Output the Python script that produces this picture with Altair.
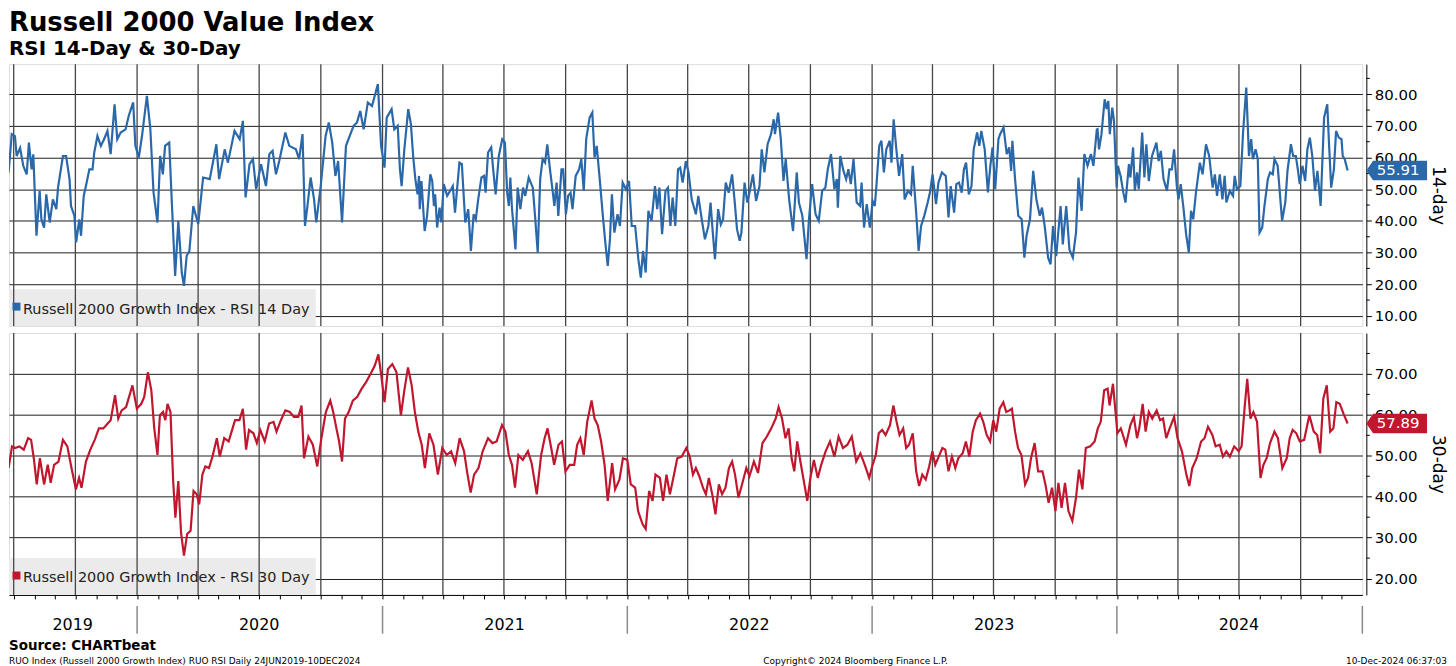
import altair as alt
import pandas as pd

# ---------------- text ----------------
title_text = "Russell 2000 Value Index"
subtitle_text = "RSI 14-Day & 30-Day"
legend14 = "Russell 2000 Growth Index - RSI 14 Day"
legend30 = "Russell 2000 Growth Index - RSI 30 Day"
axis_title14 = "14-day"
axis_title30 = "30-day"
source_text = "Source: CHARTbeat"
footer_left = "RUO Index (Russell 2000 Growth Index) RUO RSI  Daily 24JUN2019-10DEC2024"
footer_mid = "Copyright\u00a9 2024 Bloomberg Finance L.P."
footer_right = "10-Dec-2024 06:37:03"

year_labels = ["2019", "2020", "2021", "2022", "2023", "2024"]
year_label_dates = ["2019-09-27", "2020-07-01", "2021-07-02", "2022-07-02", "2023-07-02", "2024-07-01"]
year_bounds = ["2020-01-01", "2021-01-01", "2022-01-01", "2023-01-01", "2024-01-01", "2025-01-01"]

ticks14 = [10, 20, 30, 40, 50, 60, 70, 80]
minor14 = [15, 25, 35, 45, 55, 65, 75, 85]
ticks30 = [20, 30, 40, 50, 60, 70]
minor30 = [25, 35, 45, 55, 65, 75]

last14 = 55.91
last30 = 57.89

# ---------------- RSI 14-day (time as decimal year, value) ----------------
t14 = [
    2019.475, 2019.488, 2019.501, 2019.508, 2019.522, 2019.535, 2019.549, 2019.558, 2019.569, 2019.576,
    2019.589, 2019.602, 2019.609, 2019.620, 2019.629, 2019.643, 2019.656, 2019.670, 2019.677, 2019.697,
    2019.710, 2019.724, 2019.730, 2019.744, 2019.751, 2019.764, 2019.771, 2019.782, 2019.791, 2019.805,
    2019.818, 2019.825, 2019.838, 2019.852, 2019.865, 2019.879, 2019.892, 2019.908, 2019.919, 2019.933,
    2019.953, 2019.966, 2019.984, 2019.993, 2020.007, 2020.020, 2020.040, 2020.054, 2020.067, 2020.083,
    2020.094, 2020.105, 2020.114, 2020.131, 2020.141, 2020.155, 2020.168, 2020.182, 2020.191, 2020.202,
    2020.213, 2020.229, 2020.249, 2020.269, 2020.296, 2020.323, 2020.334, 2020.357, 2020.370, 2020.397,
    2020.418, 2020.431, 2020.442, 2020.458, 2020.472, 2020.485, 2020.505, 2020.525, 2020.539, 2020.552,
    2020.566, 2020.579, 2020.604, 2020.620, 2020.647, 2020.660, 2020.674, 2020.684, 2020.694, 2020.707,
    2020.721, 2020.730, 2020.748, 2020.768, 2020.781, 2020.795, 2020.808, 2020.819, 2020.835, 2020.851,
    2020.869, 2020.882, 2020.896, 2020.909, 2020.923, 2020.940, 2020.957, 2020.981, 2020.994, 2021.008,
    2021.017, 2021.037, 2021.048,
    2021.062, 2021.071, 2021.078, 2021.089, 2021.105, 2021.116, 2021.125, 2021.134, 2021.143,
    2021.149, 2021.152, 2021.159, 2021.172, 2021.182, 2021.195, 2021.203, 2021.210, 2021.215, 2021.223,
    2021.233, 2021.240, 2021.250, 2021.264, 2021.280, 2021.287, 2021.296, 2021.314, 2021.324, 2021.338,
    2021.350, 2021.361, 2021.372, 2021.381, 2021.390, 2021.404, 2021.415, 2021.421, 2021.431, 2021.444,
    2021.452, 2021.462, 2021.475, 2021.489, 2021.500, 2021.509, 2021.516, 2021.522, 2021.529, 2021.543,
    2021.552, 2021.563, 2021.574, 2021.583, 2021.597, 2021.614, 2021.624, 2021.634, 2021.644, 2021.654,
    2021.664, 2021.673, 2021.684, 2021.694, 2021.702, 2021.711, 2021.718, 2021.731, 2021.738, 2021.749,
    2021.758, 2021.768, 2021.776, 2021.789, 2021.803, 2021.812, 2021.822, 2021.832, 2021.846, 2021.857,
    2021.866, 2021.875, 2021.886, 2021.900, 2021.910, 2021.920, 2021.929, 2021.937, 2021.947, 2021.960,
    2021.970, 2021.981, 2021.994, 2022.007, 2022.018, 2022.032, 2022.045, 2022.055, 2022.064, 2022.075,
    2022.086, 2022.099, 2022.113, 2022.122, 2022.131, 2022.142, 2022.156, 2022.166, 2022.176, 2022.185,
    2022.196, 2022.207, 2022.216, 2022.226, 2022.239, 2022.250, 2022.263, 2022.280, 2022.290, 2022.304,
    2022.317, 2022.331, 2022.340, 2022.348, 2022.358, 2022.371, 2022.382, 2022.391, 2022.402, 2022.414,
    2022.428, 2022.439, 2022.448, 2022.459,
    2022.466, 2022.479, 2022.490, 2022.499, 2022.513, 2022.526, 2022.540, 2022.549, 2022.560, 2022.573,
    2022.587, 2022.598, 2022.603, 2022.616, 2022.627, 2022.638, 2022.647, 2022.661, 2022.677, 2022.692,
    2022.701, 2022.715, 2022.732, 2022.742, 2022.755, 2022.769, 2022.782, 2022.796, 2022.809, 2022.819,
    2022.832, 2022.846, 2022.856, 2022.860, 2022.870, 2022.883, 2022.894, 2022.903, 2022.913, 2022.924,
    2022.937, 2022.951, 2022.957, 2022.967, 2022.978, 2022.991, 2023.002, 2023.011, 2023.018, 2023.029,
    2023.038, 2023.048, 2023.058, 2023.072, 2023.079, 2023.088, 2023.099, 2023.110, 2023.123, 2023.133,
    2023.146, 2023.159, 2023.166, 2023.180, 2023.190, 2023.200, 2023.213, 2023.227, 2023.236, 2023.247,
    2023.261, 2023.271, 2023.285, 2023.301, 2023.312, 2023.321, 2023.335, 2023.344, 2023.355, 2023.366,
    2023.375, 2023.384, 2023.395, 2023.406, 2023.415, 2023.429, 2023.438, 2023.446, 2023.460, 2023.473,
    2023.483, 2023.492, 2023.503, 2023.516, 2023.523, 2023.537, 2023.550, 2023.560, 2023.568, 2023.573,
    2023.584, 2023.597, 2023.611, 2023.622, 2023.631, 2023.645, 2023.658, 2023.671, 2023.685, 2023.694,
    2023.705, 2023.719, 2023.729, 2023.739, 2023.752, 2023.770, 2023.779, 2023.793, 2023.806, 2023.820,
    2023.833, 2023.843, 2023.856, 2023.867, 2023.880, 2023.894, 2023.904, 2023.918,
    2023.921, 2023.927, 2023.937, 2023.950, 2023.958, 2023.965, 2023.971, 2023.981, 2023.988, 2023.999,
    2024.004, 2024.015, 2024.026, 2024.035, 2024.049, 2024.055, 2024.066, 2024.073, 2024.082, 2024.089,
    2024.103, 2024.112, 2024.120, 2024.130, 2024.143, 2024.152, 2024.161, 2024.170, 2024.179, 2024.190,
    2024.204, 2024.214, 2024.224, 2024.233, 2024.244, 2024.251, 2024.260, 2024.271, 2024.282, 2024.293,
    2024.302, 2024.311, 2024.322, 2024.338, 2024.349, 2024.363, 2024.376, 2024.390, 2024.399, 2024.408,
    2024.419, 2024.430, 2024.439, 2024.446, 2024.460, 2024.473, 2024.480, 2024.489, 2024.503, 2024.514,
    2024.527, 2024.538, 2024.547, 2024.554, 2024.565, 2024.574, 2024.581, 2024.592, 2024.601, 2024.615,
    2024.624, 2024.635, 2024.642, 2024.655, 2024.673, 2024.686, 2024.695, 2024.709, 2024.718, 2024.729,
    2024.737, 2024.745, 2024.756, 2024.767, 2024.776, 2024.786, 2024.796, 2024.807, 2024.817, 2024.830,
    2024.844, 2024.857, 2024.864, 2024.873, 2024.884, 2024.893, 2024.904, 2024.915, 2024.920, 2024.928,
    2024.940,
]
rsi14 = [
    55.3, 67.4, 66.8, 60.5, 63.0, 57.4, 54.7, 64.7, 56.3, 61.0,
    35.3, 49.5, 40.5, 37.9, 48.4, 39.5, 46.8, 43.7, 50.5, 60.5,
    60.5, 53.2, 44.7, 41.6, 33.2, 40.5, 35.3, 47.9, 51.0, 56.3,
    56.3, 61.6, 66.8, 63.7, 65.8, 68.4, 61.1, 76.8, 65.8, 67.9,
    68.9, 73.2, 77.4, 63.7, 60.0, 66.8, 79.5, 69.0, 49.0, 39.5,
    60.5, 54.7, 63.7, 64.7, 46.8, 22.6, 40.0, 23.7, 19.5, 29.0,
    30.5, 44.7, 39.0, 53.7, 53.2, 64.2, 53.2, 62.6, 58.4, 68.4,
    65.8, 71.6, 47.4, 57.9, 59.5, 50.0, 57.9, 51.0, 61.1, 62.1,
    54.7, 58.9, 67.9, 63.7, 62.6, 59.5, 67.4, 38.4, 44.7, 53.7,
    46.8, 39.5, 51.0, 66.8, 71.1, 64.7, 54.2, 58.9, 39.5, 63.7,
    67.4, 70.0, 71.1, 74.7, 68.9, 77.4, 76.3, 83.2, 63.7, 56.8,
    72.6, 75.3, 68.9,
    70.0, 56.3, 51.0, 62.6, 75.3, 70.5, 60.5, 53.2, 48.4,
    54.2, 43.7, 52.6, 36.8, 41.6, 54.7, 52.6, 44.7, 48.4, 37.9,
    44.2, 39.5, 51.6, 47.9, 50.0, 51.0, 42.6, 58.4, 57.9, 39.5,
    43.7, 30.5, 42.1, 40.5, 46.3, 53.7, 54.2, 48.9, 61.6, 63.2,
    56.3, 48.4, 60.5, 65.8, 64.7, 49.0, 44.7, 53.7, 43.7, 31.0,
    50.5, 43.7, 50.5, 47.9, 53.7, 50.5, 40.5, 30.0, 53.2, 59.5,
    58.4, 64.2, 56.3, 50.0, 44.7, 52.1, 41.6, 56.3, 56.3, 42.1,
    47.9, 48.9, 43.7, 54.2, 56.3, 59.5, 49.5, 65.8, 72.6, 74.2,
    60.0, 63.7, 54.2, 41.6, 33.2, 25.8, 34.2, 48.4, 36.3, 42.1,
    38.4, 52.1, 50.0, 52.6, 38.4, 38.4, 27.9, 22.1, 30.5, 23.7,
    43.2, 40.0, 51.0, 43.7, 50.5, 35.8, 49.5, 50.5, 38.4, 47.4,
    38.4, 56.3, 56.8, 52.1, 58.9, 55.3, 46.8, 42.1, 47.9, 40.5,
    34.2, 38.4, 45.8, 37.4, 27.9, 43.7, 38.9, 40.5, 52.1, 48.9,
    54.7, 45.8, 37.4, 33.7,
    36.3, 52.1, 45.8, 48.9, 54.7, 46.3, 51.0, 62.6, 55.3, 64.2,
    67.4, 72.1, 67.4, 74.2, 65.8, 52.6, 59.5, 46.8, 36.8, 55.3,
    45.8, 41.6, 27.9, 40.5, 51.6, 42.1, 40.0, 49.5, 50.5, 56.3,
    61.1, 50.0, 53.2, 44.2, 60.5, 55.8, 53.2, 56.3, 51.6, 59.5,
    45.8, 44.7, 52.1, 37.9, 45.3, 37.9, 46.3, 44.7, 51.6, 63.7,
    65.3, 55.3, 62.6, 65.3, 58.4, 72.1, 62.6, 54.2, 61.1, 46.8,
    49.5, 48.4, 57.4, 42.6, 30.5, 38.4, 41.6, 45.8, 48.9, 54.7,
    45.3, 52.1, 55.3, 54.2, 41.1, 51.0, 42.6, 51.6, 52.1, 48.9,
    56.3, 58.4, 48.4, 51.0, 62.6, 67.9, 63.7, 68.4, 62.6, 49.0,
    57.4, 63.2, 50.0, 65.8, 67.4, 69.5, 61.1, 63.2, 55.8, 65.3,
    53.2, 41.6, 40.5, 28.4, 35.3, 40.5, 55.8, 46.8, 41.6, 44.2,
    38.4, 28.4, 26.3, 38.4, 28.9, 44.7, 32.6, 44.7, 31.0, 28.4,
    36.3, 53.7, 43.2, 61.1, 57.4, 61.1, 57.4, 68.9,
    69.0, 62.6, 67.4, 78.4, 75.3, 77.9, 67.4, 75.8, 71.6, 50.5,
    57.4, 54.2, 49.0, 45.8, 57.9, 53.7, 63.2, 49.5, 55.3, 50.0,
    67.9, 53.7, 64.2, 52.6, 60.5, 62.6, 64.7, 58.9, 62.1, 53.2,
    49.5, 56.3, 56.3, 62.6, 51.0, 46.8, 51.6, 44.2, 35.8, 30.0,
    43.2, 40.5, 48.9, 58.4, 54.7, 64.2, 60.5, 50.5, 54.7, 47.9,
    54.7, 46.8, 54.2, 45.8, 49.5, 47.9, 54.2, 50.0, 51.0, 67.9,
    82.1, 60.5, 65.8, 59.5, 62.6, 59.5, 36.3, 37.9, 44.7, 53.2,
    55.3, 54.7, 59.5, 57.4, 40.0, 45.8, 55.8, 64.2, 60.5, 60.5,
    56.3, 51.6, 57.4, 52.6, 62.6, 66.3, 60.5, 49.5, 55.8, 44.7,
    72.6, 76.8, 64.7, 50.5, 56.3, 68.4, 66.3, 65.8, 60.5, 59.5,
    55.91,
]

# ---------------- RSI 30-day ----------------
t30 = [
    2019.475, 2019.489, 2019.501, 2019.519, 2019.537, 2019.555, 2019.567, 2019.578, 2019.590, 2019.603,
    2019.620, 2019.635, 2019.647, 2019.661, 2019.679, 2019.697, 2019.715, 2019.732, 2019.750, 2019.763,
    2019.773, 2019.791, 2019.809, 2019.827, 2019.844, 2019.862, 2019.880, 2019.892, 2019.910, 2019.923,
    2019.937, 2019.955, 2019.981, 2019.999, 2020.017, 2020.029, 2020.044, 2020.058, 2020.070, 2020.083,
    2020.093, 2020.106, 2020.115, 2020.124, 2020.136, 2020.147, 2020.156, 2020.168, 2020.179, 2020.191,
    2020.204, 2020.218, 2020.230, 2020.243, 2020.253, 2020.266, 2020.278, 2020.293, 2020.307, 2020.325,
    2020.337, 2020.355, 2020.373, 2020.385, 2020.399, 2020.417, 2020.431, 2020.444, 2020.456, 2020.474,
    2020.488, 2020.502, 2020.520, 2020.538, 2020.556, 2020.568, 2020.586, 2020.604, 2020.622, 2020.639,
    2020.657, 2020.670, 2020.680, 2020.698, 2020.716, 2020.734, 2020.751, 2020.769, 2020.787, 2020.799,
    2020.812, 2020.823, 2020.835, 2020.847, 2020.862, 2020.879, 2020.897, 2020.915, 2020.933, 2020.951,
    2020.968, 2020.983, 2020.995, 2021.008, 2021.022, 2021.040, 2021.057, 2021.075, 2021.089, 2021.104,
    2021.119, 2021.132, 2021.146, 2021.160, 2021.173, 2021.191, 2021.208, 2021.226, 2021.244, 2021.262,
    2021.280, 2021.297, 2021.315, 2021.333, 2021.345, 2021.360, 2021.374, 2021.392, 2021.409, 2021.431,
    2021.449, 2021.466, 2021.488, 2021.502, 2021.516, 2021.529, 2021.541, 2021.555, 2021.573, 2021.594,
    2021.609, 2021.630, 2021.648, 2021.662, 2021.674, 2021.689, 2021.701, 2021.719, 2021.733, 2021.747,
    2021.765, 2021.783, 2021.795, 2021.808, 2021.822, 2021.836, 2021.854, 2021.866, 2021.879, 2021.893,
    2021.907, 2021.920, 2021.938, 2021.950, 2021.968, 2021.982, 2022.000, 2022.014, 2022.032, 2022.044,
    2022.062, 2022.075, 2022.089, 2022.103, 2022.115, 2022.133, 2022.146, 2022.160, 2022.174, 2022.192,
    2022.204, 2022.222,
    2022.241, 2022.255, 2022.268, 2022.280, 2022.294, 2022.309, 2022.321, 2022.333, 2022.348, 2022.360,
    2022.374, 2022.387, 2022.401, 2022.415, 2022.428, 2022.440, 2022.454, 2022.472, 2022.486, 2022.499,
    2022.517, 2022.534, 2022.552, 2022.570, 2022.588, 2022.606, 2022.618, 2022.632, 2022.646, 2022.659,
    2022.671, 2022.682, 2022.694, 2022.707, 2022.721, 2022.735, 2022.748, 2022.762, 2022.778, 2022.792,
    2022.810, 2022.828, 2022.846, 2022.863, 2022.881, 2022.899, 2022.917, 2022.935, 2022.952, 2022.970,
    2022.988, 2023.002, 2023.015, 2023.027, 2023.041, 2023.055, 2023.073, 2023.087, 2023.100, 2023.112,
    2023.127, 2023.139, 2023.151, 2023.166, 2023.180, 2023.192, 2023.205, 2023.219, 2023.233, 2023.246,
    2023.258, 2023.272, 2023.287, 2023.299, 2023.312, 2023.326, 2023.340, 2023.352, 2023.370, 2023.383,
    2023.397, 2023.411, 2023.424, 2023.441, 2023.454, 2023.468, 2023.482, 2023.495, 2023.507, 2023.521,
    2023.536, 2023.548, 2023.561, 2023.571, 2023.584, 2023.596, 2023.610, 2023.625, 2023.637, 2023.649,
    2023.664, 2023.678, 2023.696, 2023.708, 2023.721, 2023.735, 2023.749, 2023.761, 2023.774, 2023.788,
    2023.802, 2023.818, 2023.833, 2023.845, 2023.859, 2023.873, 2023.891, 2023.909, 2023.922, 2023.934,
    2023.948, 2023.962, 2023.970, 2023.984, 2024.002, 2024.016, 2024.037, 2024.055, 2024.069, 2024.082,
    2024.091, 2024.105, 2024.117, 2024.130, 2024.144, 2024.162, 2024.176, 2024.188, 2024.201, 2024.215,
    2024.233, 2024.247, 2024.265, 2024.283, 2024.295, 2024.307, 2024.325, 2024.343, 2024.357, 2024.371,
    2024.389, 2024.402, 2024.419, 2024.432, 2024.446, 2024.460, 2024.478, 2024.496, 2024.508, 2024.521,
    2024.531, 2024.544, 2024.556, 2024.571, 2024.585, 2024.597, 2024.610, 2024.624, 2024.642, 2024.656,
    2024.674, 2024.692, 2024.704, 2024.716, 2024.731, 2024.745, 2024.763, 2024.784, 2024.802, 2024.816,
    2024.828, 2024.841, 2024.855, 2024.869, 2024.882, 2024.894, 2024.908, 2024.923, 2024.940,
]
rsi30 = [
    47.0, 52.3, 51.9, 52.3, 51.5, 54.3, 53.9, 49.4, 43.0, 49.4,
    43.0, 47.8, 43.4, 47.8, 48.6, 53.9, 52.3, 47.0, 41.8, 44.6,
    42.2, 48.6, 51.5, 53.9, 56.7, 56.7, 57.9, 58.7, 64.8, 59.1,
    61.1, 61.9, 67.2, 61.5, 62.7, 64.4, 70.4, 66.0, 56.7, 50.2,
    59.9, 60.7, 58.7, 62.7, 60.7, 43.8, 34.9, 43.8, 31.3, 25.6,
    30.9, 31.7, 41.4, 40.6, 38.1, 45.4, 47.4, 47.0, 49.8, 54.3,
    49.8, 54.3, 53.5, 55.9, 58.7, 58.7, 61.5, 51.5, 56.3, 55.5,
    53.1, 56.3, 53.5, 57.9, 58.3, 55.9, 58.7, 61.1, 60.7, 59.5,
    59.5, 62.3, 49.4, 54.7, 52.7, 47.4, 54.3, 60.7, 63.5, 60.7,
    56.7, 53.5, 48.6, 59.1, 60.7, 63.5, 64.4, 66.4, 68.0, 70.0,
    72.0, 74.8, 69.6, 63.1, 71.2, 72.4, 70.4, 59.9, 66.0, 71.6,
    67.2, 60.7, 55.9, 52.7, 47.0, 55.5, 52.7, 45.4, 51.9, 50.2,
    51.1, 48.2, 54.3, 51.1, 46.2, 41.0, 45.4, 47.0, 51.1, 54.3,
    53.1, 53.5, 57.5, 55.9, 50.2, 47.8, 42.2, 50.2, 49.0, 51.1,
    48.2, 40.6, 50.2, 54.3, 56.7, 51.9, 47.8, 52.7, 53.5, 46.2,
    47.8, 47.8, 52.7, 54.3, 50.2, 58.3, 63.5, 59.1, 57.5, 53.5,
    47.8, 39.0, 48.2, 41.8, 44.2, 49.4, 49.0, 43.0, 42.2, 36.5,
    33.3, 32.1, 41.4, 39.0, 45.4, 44.6, 39.0, 45.4, 40.6, 45.8,
    49.4, 49.8,
    51.9, 49.8, 45.4, 47.0, 45.0, 42.2, 40.6, 44.6, 40.2, 35.7,
    43.0, 40.6, 42.2, 47.0, 48.6, 45.4, 39.8, 43.8, 47.0, 45.0,
    48.6, 45.8, 53.1, 54.7, 56.7, 59.1, 61.9, 59.1, 54.3, 56.7,
    49.4, 46.2, 53.5, 48.6, 43.8, 39.0, 44.6, 49.0, 44.6, 47.8,
    51.1, 53.5, 49.8, 54.7, 51.9, 52.7, 54.7, 48.6, 50.6, 47.8,
    44.6, 47.8, 50.2, 55.5, 56.3, 55.1, 57.5, 62.3, 58.3, 55.1,
    56.7, 51.9, 52.7, 55.5, 46.2, 42.6, 45.4, 44.2, 47.4, 51.1,
    47.8, 49.8, 51.9, 51.5, 46.2, 49.8, 47.0, 49.4, 50.6, 53.5,
    49.8, 55.9, 58.7, 60.3, 58.3, 55.1, 53.5, 58.7, 55.9, 61.5,
    63.1, 60.7, 61.1, 61.5, 55.9, 51.9, 50.2, 43.0, 44.6, 49.4,
    53.1, 46.2, 46.2, 43.0, 38.5, 42.2, 36.5, 43.4, 37.3, 43.4,
    36.5, 34.1, 39.8, 46.6, 41.8, 51.9, 52.3, 53.5, 56.7, 58.3,
    66.0, 66.4, 62.3, 67.6, 55.5, 56.7, 52.7, 57.5, 59.5, 54.3,
    56.7, 62.7, 55.9, 60.7, 59.1, 61.1, 58.7, 59.1, 54.3, 56.7,
    59.5, 54.3, 51.1, 45.4, 42.6, 47.0, 49.4, 53.5, 54.3, 57.1,
    55.1, 52.3, 52.7, 49.8, 51.1, 49.8, 52.3, 51.1, 52.3, 62.3,
    68.8, 59.1, 60.7, 58.3, 44.6, 47.8, 49.4, 53.1, 55.9, 54.3,
    47.0, 49.4, 54.3, 56.3, 55.5, 53.5, 53.9, 59.9, 55.9, 55.1,
    50.6, 64.0, 67.2, 55.9, 56.7, 63.1, 62.7, 60.3, 57.89,
]

# ---------------- colours / geometry ----------------
BLUE = "#2a68aa"
RED = "#c0172e"
FONT = "DejaVu Sans"
W = 1359
H = 263


def to_date(t):
    y = int(t)
    start = pd.Timestamp(year=y, month=1, day=1)
    end = pd.Timestamp(year=y + 1, month=1, day=1)
    return start + (end - start) * (t - y)


df14 = pd.DataFrame({"d": [to_date(t) for t in t14], "v": rsi14})
df30 = pd.DataFrame({"d": [to_date(t) for t in t30], "v": rsi30})
quarters = pd.DataFrame({"d": pd.date_range("2019-07-01", "2024-10-01", freq="QS")})
one = pd.DataFrame({"a": [0]})

xscale = alt.Scale(domain=[alt.DateTime(year=2019, month=6, date=24),
                           alt.DateTime(year=2025, month=1, date=1)])
month_ticks = [alt.DateTime(year=ts.year, month=ts.month, date=1)
               for ts in pd.date_range("2019-07-01", "2024-12-01", freq="MS")]


def yaxis(values, title):
    return alt.Axis(orient="right", values=values, format=".2f", offset=4,
                    grid=True, gridColor="#1e1e1e", gridWidth=1,
                    domain=True, domainColor="#000", ticks=True, tickColor="#000",
                    tickSize=5, labelPadding=3, labelFontSize=15, labelColor="#000",
                    labelFont=FONT, title=title, titleFont=FONT, titleFontSize=17,
                    titleFontWeight="normal", titleColor="#000", titlePadding=11,
                    titleAngle=90)


def panel(df, color, domain, ticks, minors, axis_title, legend_label, last, xaxis):
    ys = alt.Scale(domain=domain, nice=False, zero=False)
    yenc = alt.Y("v:Q", scale=ys, axis=yaxis(ticks, axis_title))
    xenc = alt.X("d:T", scale=xscale, axis=xaxis)

    box = alt.Chart(one).mark_rect(color="#ebebeb").encode(
        x=alt.value(0), x2=alt.value(308), y=alt.value(H - 37), y2=alt.value(H))
    vrules = alt.Chart(quarters).mark_rule(color="#454545", strokeWidth=1.3).encode(x=xenc)
    line = alt.Chart(df).mark_line(color=color, strokeWidth=2.2, clip=True).encode(x=xenc, y=yenc)
    marker = alt.Chart(one).mark_square(color=color, size=64, opacity=1).encode(
        x=alt.value(7.5), y=alt.value(H - 19.5))
    ltext = alt.Chart(one).mark_text(align="left", baseline="alphabetic", fontSize=14.5,
                                     font=FONT, color="#222").encode(
        x=alt.value(14), y=alt.value(H - 12.5), text=alt.value(legend_label))
    mdf = pd.DataFrame({"v": minors})
    mticks = alt.Chart(mdf).mark_rule(color="#000", strokeWidth=1).encode(
        x=alt.value(W + 4), x2=alt.value(W + 7.5), y=yenc)
    tdf = pd.DataFrame({"v": [last], "label": [f"{last:.2f}"]})
    tag = alt.Chart(tdf).mark_point(
        shape="M-1,0L-0.78,-0.32L1,-0.32L1,0.32L-0.78,0.32Z",
        filled=True, size=3721, opacity=1, color=color, strokeWidth=0).encode(
        x=alt.value(W + 34.5), y=yenc)
    ttext = alt.Chart(tdf).mark_text(color="white", fontSize=15, font=FONT,
                                     align="center", baseline="middle").encode(
        x=alt.value(W + 36), y=yenc, text="label:N")
    return [box, vrules, line, marker, ltext, mticks, tag, ttext]


top_layers = panel(df14, BLUE, [6.8, 89.5], ticks14, minor14, axis_title14, legend14, last14, None)
title = alt.Chart(one).mark_text(align="left", baseline="alphabetic", fontSize=26,
                                 fontWeight="bold", font=FONT, color="#000").encode(
    x=alt.value(0), y=alt.value(-33), text=alt.value(title_text))
subtitle = alt.Chart(one).mark_text(align="left", baseline="alphabetic", fontSize=20,
                                    fontWeight="bold", font=FONT, color="#000").encode(
    x=alt.value(0), y=alt.value(-9), text=alt.value(subtitle_text))
top = alt.layer(*top_layers, title, subtitle).properties(width=W, height=H)

xaxis_bottom = alt.Axis(values=month_ticks, labels=False, ticks=True, tickSize=4,
                        tickColor="#000", domain=True, domainColor="#000", grid=False, title=None)
bot_layers = panel(df30, RED, [16, 80], ticks30, minor30, axis_title30, legend30, last30, xaxis_bottom)

ylab = pd.DataFrame({"d": pd.to_datetime(year_label_dates), "label": year_labels})
ybnd = pd.DataFrame({"d": pd.to_datetime(year_bounds)})
xdate = alt.X("d:T", scale=xscale, axis=xaxis_bottom)
year_text = alt.Chart(ylab).mark_text(fontSize=16, font=FONT, color="#000",
                                      baseline="middle", align="center").encode(
    x=xdate, y=alt.value(H + 30), text="label:N")
year_sep = alt.Chart(ybnd).mark_rule(color="#8a8a8a", strokeWidth=1.5).encode(
    x=xdate, y=alt.value(H + 11), y2=alt.value(H + 39))
src = alt.Chart(one).mark_text(align="left", baseline="alphabetic", fontSize=13.5,
                               fontWeight="bold", font=FONT, color="#000").encode(
    x=alt.value(0), y=alt.value(H + 55), text=alt.value(source_text))
f_left = alt.Chart(one).mark_text(align="left", baseline="alphabetic", fontSize=9,
                                  font=FONT, color="#000").encode(
    x=alt.value(0), y=alt.value(H + 69), text=alt.value(footer_left))
f_mid = alt.Chart(one).mark_text(align="center", baseline="alphabetic", fontSize=9,
                                 font=FONT, color="#000").encode(
    x=alt.value(850), y=alt.value(H + 69), text=alt.value(footer_mid))
f_right = alt.Chart(one).mark_text(align="right", baseline="alphabetic", fontSize=9,
                                   font=FONT, color="#000").encode(
    x=alt.value(1444), y=alt.value(H + 69), text=alt.value(footer_right))

bottom = alt.layer(*bot_layers, year_text, year_sep, src, f_left, f_mid, f_right).properties(
    width=W, height=H)

chart = alt.vconcat(top, bottom, spacing=3).properties(padding=0).configure_view(
    stroke="#000", strokeWidth=1.2).configure(font=FONT)

chart.save("out.html", embed_options={"renderer": "svg", "actions": False})
